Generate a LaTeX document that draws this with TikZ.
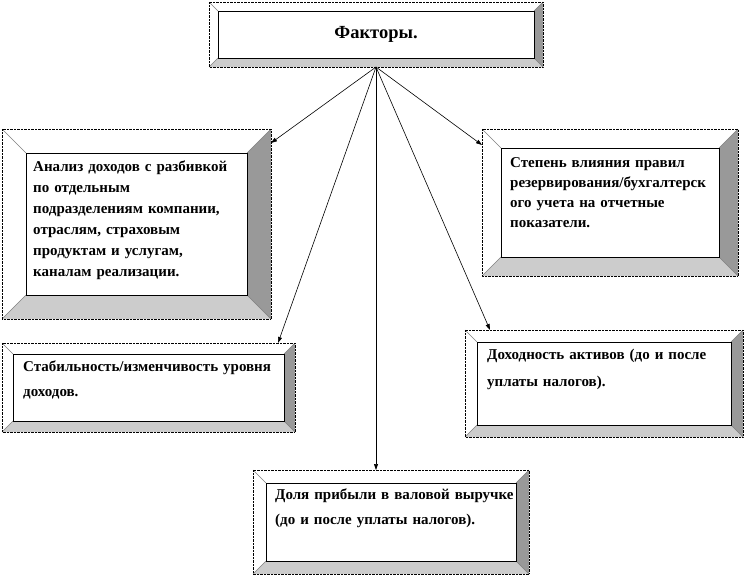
\documentclass[tikz,border=0pt]{standalone}
\usepackage{fontspec}
\setmainfont{Liberation Serif}
\usetikzlibrary{arrows.meta, calc}

\definecolor{bevelside}{HTML}{999999}
\definecolor{bevelfloor}{HTML}{CCCCCC}

\tikzset{
  frame/.style = {fill=white, inner sep=0pt, outer sep=0pt, anchor=north west},
  txt/.style = {inner sep=0pt, anchor=north west, align=left, text width=265pt,
                text height=10pt, font=\bfseries\fontsize{15}{#1}\selectfont},
  txt/.default = 21,
  link/.style = {-{Triangle[length=6pt,width=4pt]}, line width=0.6pt},
}

% bevel faces round a frame node: #1 name, #2 width of the bevel
\newcommand{\bevel}[2]{%
  \coordinate (#1-a) at (#1.north west);
  \coordinate (#1-b) at (#1.north east);
  \coordinate (#1-c) at (#1.south east);
  \coordinate (#1-d) at (#1.south west);
  \coordinate (#1-ia) at ($(#1-a)+(#2,#2)$);
  \coordinate (#1-ib) at ($(#1-b)+(-#2,#2)$);
  \coordinate (#1-ic) at ($(#1-c)+(-#2,-#2)$);
  \coordinate (#1-id) at ($(#1-d)+(#2,-#2)$);
  \fill[bevelfloor] (#1-d) -- (#1-c) -- (#1-ic) -- (#1-id) -- cycle;
  \fill[bevelside] (#1-b) -- (#1-c) -- (#1-ic) -- (#1-ib) -- cycle;
  \draw[gray, line width=0.5pt] (#1-a) -- (#1-ia) (#1-b) -- (#1-ib)
    (#1-c) -- (#1-ic) (#1-d) -- (#1-id);
  \draw[line width=0.8pt] (#1-ia) rectangle (#1-ic);
  \draw[densely dotted, line width=0.4pt] (#1-a) rectangle (#1-c);
}

\begin{document}
\begin{tikzpicture}[x=1pt, y=-1pt]
   \useasboundingbox (0,0) rectangle (747,582);

   \node (fak)[frame, minimum width=334pt, minimum height=65pt,
               font=\bfseries\fontsize{18.5}{22}\selectfont] at (209,2) {Факторы.};
   \bevel{fak}{9}

   \node (analiz)[frame, minimum width=269pt, minimum height=190pt] at (2,129) {};
   \bevel{analiz}{24}
   \node (analiz-t)[txt] at ($(analiz.north west)+(31,32)$)
     {Анализ доходов с разбивкой\\по отдельным\\подразделениям компании,\\
      отраслям, страховым\\продуктам и услугам,\\каналам реализации.};

   \node (stepen)[frame, minimum width=256pt, minimum height=147pt] at (482,129) {};
   \bevel{stepen}{19}
   \node (stepen-t)[txt=20] at ($(stepen.north west)+(28,28)$)
     {Степень влияния правил\\резервирования/бухгалтерск\\ого учета на отчетные\\показатели.};

   \node (stab)[frame, minimum width=293pt, minimum height=89pt] at (2,343) {};
   \bevel{stab}{11}
   \node (stab-t)[txt=25] at ($(stab.north west)+(21,18)$)
     {Стабильность/изменчивость уровня\\доходов.};

   \node (dohod)[frame, minimum width=278pt, minimum height=107pt] at (465,330) {};
   \bevel{dohod}{12}
   \node (dohod-t)[txt=27] at ($(dohod.north west)+(22,19)$)
     {Доходность активов (до и после\\уплаты налогов).};

   \node (doli)[frame, minimum width=276pt, minimum height=104pt] at (253,470) {};
   \bevel{doli}{13}
   \node (doli-t)[txt=25] at ($(doli.north west)+(22,19)$)
     {Доля прибыли в валовой выручке\\(до и после уплаты налогов).};

   \draw[link] (fak.south) -- ($(analiz.north east)+(0,14)$);
   \draw[link] (fak.south) -- ($(stepen.north west)+(0,16)$);
   \draw[link] (fak.south) -- ($(stab.north east)+(-17,0)$);
   \draw[link] (fak.south) -- ($(dohod.north west)+(25,0)$);
   \draw[link] (fak.south) -- (fak.south |- doli.north);
\end{tikzpicture}
\end{document}
